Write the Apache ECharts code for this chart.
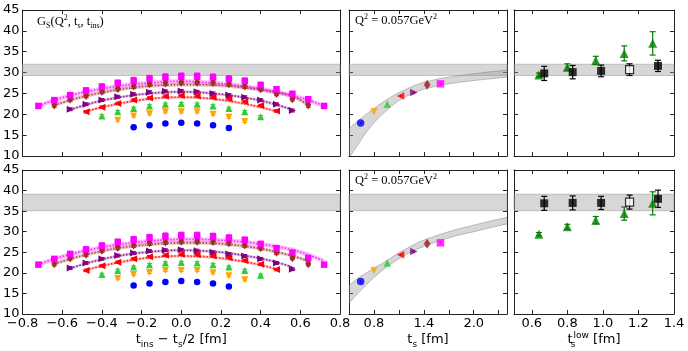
<!DOCTYPE html>
<html>
<head>
<meta charset="utf-8">
<script src="https://cdn.jsdelivr.net/npm/echarts@6/dist/echarts.min.js"></script>
<style>
html, body { margin: 0; padding: 0; background: #fff; }
#chart { width: 688px; height: 351px; }
</style>
</head>
<body>
<div id="chart"></div>
<script>
// ---- data ----
// left panels: G_S vs t_ins - t_s/2, one set per source-sink separation
const tinsBlue    = [-0.24, -0.16, -0.08, 0, 0.08, 0.16, 0.24];
const tinsOrange  = [-0.32, -0.24, -0.16, -0.08, 0, 0.08, 0.16, 0.24, 0.32];
const tinsGreen   = [-0.40, -0.32, -0.24, -0.16, -0.08, 0, 0.08, 0.16, 0.24, 0.32, 0.40];
const tinsRed     = [-0.48, -0.40, -0.32, -0.24, -0.16, -0.08, 0, 0.08, 0.16, 0.24, 0.32, 0.40, 0.48];
const tinsPurple  = [-0.56, -0.48, -0.40, -0.32, -0.24, -0.16, -0.08, 0, 0.08, 0.16, 0.24, 0.32, 0.40, 0.48, 0.56];
const tinsBrown   = [-0.64, -0.56, -0.48, -0.40, -0.32, -0.24, -0.16, -0.08, 0, 0.08, 0.16, 0.24, 0.32, 0.40, 0.48, 0.56, 0.64];
const tinsMagenta = [-0.72, -0.64, -0.56, -0.48, -0.40, -0.32, -0.24, -0.16, -0.08, 0, 0.08, 0.16, 0.24, 0.32, 0.40, 0.48, 0.56, 0.64, 0.72];

const gsBlue    = [16.9, 17.4, 17.8, 18.0, 17.8, 17.4, 16.7];
const gsOrange  = [18.6, 19.6, 20.1, 20.6, 20.6, 20.6, 20.0, 19.3, 18.3];
const gsGreen   = [19.6, 20.6, 21.4, 22.0, 22.4, 22.5, 22.4, 22.0, 21.4, 20.6, 19.4];
const gsRed     = [20.6, 21.7, 22.6, 23.4, 23.9, 24.3, 24.5, 24.4, 24.1, 23.7, 23.0, 22.1, 20.8];
const gsPurple  = [21.2, 22.4, 23.4, 24.2, 24.8, 25.3, 25.5, 25.6, 25.4, 25.0, 24.6, 24.1, 23.4, 22.4, 20.9];
const gsBrown   = [22.2, 23.6, 24.5, 25.5, 26.2, 26.8, 27.3, 27.5, 27.7, 27.7, 27.6, 27.3, 26.8, 26.1, 25.0, 23.7, 22.2];
const gsMagenta = [22.0, 23.4, 24.6, 25.7, 26.6, 27.5, 28.1, 28.6, 28.9, 29.1, 29.1, 28.9, 28.5, 28.0, 27.0, 26.0, 24.9, 23.6, 22.0];

const errBlue    = [0.2, 0.2, 0.2, 0.2, 0.2, 0.2, 0.2];
const errOrange  = [0.25, 0.25, 0.25, 0.25, 0.25, 0.25, 0.25, 0.25, 0.25];
const errGreen   = [0.3, 0.3, 0.3, 0.3, 0.3, 0.3, 0.3, 0.3, 0.3, 0.3, 0.3];
const errRed     = [0.3, 0.3, 0.3, 0.3, 0.3, 0.3, 0.3, 0.3, 0.3, 0.3, 0.3, 0.3, 0.3];
const errPurple  = [0.35, 0.35, 0.35, 0.35, 0.35, 0.35, 0.35, 0.35, 0.35, 0.35, 0.35, 0.35, 0.35, 0.35, 0.35];
const errBrown   = [0.5, 0.5, 0.55, 0.55, 0.6, 0.6, 0.6, 0.6, 0.6, 0.6, 0.6, 0.6, 0.6, 0.55, 0.55, 0.5, 0.5];
const errMagenta = [0.5, 0.55, 0.6, 0.65, 0.7, 0.7, 0.75, 0.75, 0.8, 0.8, 0.8, 0.75, 0.75, 0.7, 0.7, 0.65, 0.6, 0.55, 0.5];

// fit bands in the left panels (centre values, upper row / lower row)
const fitRedTop     = [20.7, 21.7, 22.5, 23.2, 23.7, 24.0, 24.1, 24.0, 23.7, 23.2, 22.5, 21.7, 20.7];
const fitPurpleTop  = [21.1, 22.3, 23.3, 24.0, 24.6, 25.0, 25.3, 25.4, 25.3, 25.0, 24.6, 24.0, 23.3, 22.3, 21.1];
const fitBrownTop   = [22.2, 23.4, 24.4, 25.2, 25.9, 26.4, 26.8, 27.0, 27.1, 27.1, 27.0, 26.8, 26.4, 25.9, 25.2, 24.4, 22.2];
const fitMagentaTop = [22.0, 23.4, 24.5, 25.4, 26.1, 26.7, 27.2, 27.5, 27.8, 27.9, 27.8, 27.5, 27.2, 26.7, 26.1, 25.4, 24.5, 23.4, 22.0];
const fitRedBot     = [20.7, 21.7, 22.5, 23.2, 23.7, 24.0, 24.1, 24.0, 23.8, 23.3, 22.7, 21.9, 20.9];
const fitPurpleBot  = [21.1, 22.3, 23.3, 24.1, 24.7, 25.1, 25.4, 25.5, 25.4, 25.2, 24.8, 24.2, 23.5, 22.6, 21.4];
const fitBrownBot   = [22.2, 23.4, 24.4, 25.3, 26.0, 26.5, 26.9, 27.2, 27.3, 27.3, 27.2, 26.9, 26.5, 25.9, 25.1, 24.1, 22.9];
const fitMagentaBot = [22.0, 23.4, 24.5, 25.4, 26.2, 26.8, 27.3, 27.7, 28.0, 28.1, 28.1, 28.0, 27.8, 27.5, 27.0, 26.4, 25.6, 24.4, 22.9];
const fitHalf = [0.35, 0.35, 0.45, 0.55]; // red, purple, brown, magenta

// middle panels: midpoint value vs t_s
const tsVals   = [0.64, 0.80, 0.96, 1.12, 1.28, 1.44, 1.60];
const gsMid    = [17.9, 20.6, 22.4, 24.4, 25.2, 27.1, 27.3];
const gsMidErr = [0.2, 0.25, 0.3, 0.3, 0.35, 0.75, 0.45];
const tsCurve      = [0.5, 0.6, 0.7, 0.8, 0.9, 1.0, 1.1, 1.2, 1.3, 1.4, 1.6, 1.8, 2.0, 2.2, 2.4];
const curveLoTop   = [9.5, 12.5, 15.5, 18.0, 20.0, 21.8, 23.3, 24.4, 25.3, 26.0, 27.0, 27.6, 28.1, 28.5, 28.9];
const curveHiTop   = [16.6, 18.3, 19.9, 21.4, 22.8, 24.1, 25.2, 26.1, 27.0, 27.7, 28.6, 29.2, 29.7, 30.2, 30.6];
const curveLoBot   = [12.6, 14.9, 17.0, 18.9, 20.6, 22.1, 23.4, 24.6, 25.6, 26.4, 27.9, 29.1, 30.0, 31.0, 31.9];
const curveHiBot   = [17.0, 18.6, 19.9, 21.1, 22.3, 23.6, 24.9, 26.0, 27.1, 28.0, 29.4, 30.6, 31.6, 32.6, 33.5];

// plateau bands
const plateauTop = [29.3, 32.0];
const plateauBot = [35.1, 39.1];

// right panels: vs t_s^low
const tsLowSq  = [0.67, 0.83, 0.99, 1.15, 1.31];
const tsLowTri = [0.64, 0.80, 0.96, 1.12, 1.28];
const sqTop    = [29.8, 30.1, 30.4, 30.7, 31.6];
const sqTopErr = [1.7, 1.6, 1.4, 1.4, 1.35];
const triTop    = [29.4, 31.3, 32.9, 34.6, 37.0];
const triTopErr = [0.5, 0.8, 1.0, 1.8, 2.8];
const sqBot    = [36.9, 37.0, 37.0, 37.2, 38.0];
const sqBotErr = [1.7, 1.7, 1.6, 1.7, 2.1];
const triBot    = [29.4, 31.2, 32.8, 34.4, 36.9];
const triBotErr = [0.4, 0.6, 0.9, 1.6, 2.8];
const openIndex = 3;

// ---- styling ----
const colors  = ['#0000ff', '#ffa500', '#32cd32', '#ff0000', '#800080', '#a52a2a', '#ff00ff'];
const symbols = ['circle', 'triangle', 'triangle', 'triangle', 'triangle', 'diamond', 'rect'];
const rotates = [0, 180, 0, 90, -90, 0, 0];
const bandRGB = ['255,0,0', '128,0,128', '165,42,42', '255,0,255'];

const tinsSets = [tinsBlue, tinsOrange, tinsGreen, tinsRed, tinsPurple, tinsBrown, tinsMagenta];
const gsSets   = [gsBlue, gsOrange, gsGreen, gsRed, gsPurple, gsBrown, gsMagenta];
const errSets  = [errBlue, errOrange, errGreen, errRed, errPurple, errBrown, errMagenta];
const fitTop = [fitRedTop, fitPurpleTop, fitBrownTop, fitMagentaTop];
const fitBot = [fitRedBot, fitPurpleBot, fitBrownBot, fitMagentaBot];

const grids = [
  {left: 22, top: 10, width: 318, height: 146},
  {left: 349, top: 10, width: 158, height: 146},
  {left: 514, top: 10, width: 160, height: 146},
  {left: 22, top: 170, width: 318, height: 144},
  {left: 349, top: 170, width: 158, height: 144},
  {left: 514, top: 170, width: 160, height: 144}
];

const ink = '#222';
const tickFont = {fontFamily: 'DejaVu Sans', fontSize: 13, color: '#000'};
const nameRich = {
  m: {fontFamily: 'DejaVu Sans', fontSize: 13, color: '#000', lineHeight: 18},
  s: {fontFamily: 'DejaVu Sans', fontSize: 9, color: '#000', lineHeight: 9, verticalAlign: 'bottom'},
  p: {fontFamily: 'DejaVu Sans', fontSize: 9, color: '#000', lineHeight: 9, verticalAlign: 'top'},
  s0: {fontFamily: 'DejaVu Sans', fontSize: 9, color: '#000', lineHeight: 9, verticalAlign: 'bottom', width: 1}
};

function fmtNum(v) {
  return String(Math.round(v * 10) / 10).replace('-', '\u2212');
}

const xRanges = [
  {min: -0.8, max: 0.8, interval: 0.2, showMin: true,
    fmt: v => fmtNum(v).replace(/^(\u2212?\d)$/, '$1.0')},
  {min: 0.5, max: 2.4, interval: 0.3, showMin: false, fmt: v => {
    const r = Math.round(v * 10) / 10;
    return (r === 0.8 || r === 1.4 || r === 2.0) ? r.toFixed(1) : '';
  }},
  {min: 0.5, max: 1.4, showMin: false, fmt: v => {
    const r = Math.round(v * 10) / 10;
    return r < 0.55 ? '' : r.toFixed(1);
  }}
];

const xNames = [
  '{m|t}{s|ins}{m| \u2212 t}{s|s}{m|/2 [fm]}',
  '{m|t}{s|s}{m| [fm]}',
  '{m|t}{s0|s}{p|low}{m| [fm]}'
];

const xAxes = [], yAxes = [];
grids.forEach((g, gi) => {
  const col = gi % 3, bottomRow = gi >= 3;
  const r = xRanges[col];
  ['bottom', 'top'].forEach(pos => {
    const main = pos === 'bottom';
    xAxes.push({
      type: 'value', gridIndex: gi, position: pos,
      min: r.min, max: r.max, interval: r.interval,
      axisLine: {show: true, onZero: false, lineStyle: {color: ink, width: 1}},
      axisTick: {show: true, inside: true, length: 4, lineStyle: {color: ink}},
      splitLine: {show: false},
      axisLabel: Object.assign({show: main && bottomRow, formatter: r.fmt, margin: 3,
        showMinLabel: r.showMin, showMaxLabel: true, hideOverlap: false}, tickFont),
      name: main && bottomRow ? xNames[col] : '',
      nameLocation: 'middle', nameGap: 17,
      nameTextStyle: {rich: nameRich}
    });
  });
  ['left', 'right'].forEach(pos => {
    const main = pos === 'left';
    yAxes.push({
      type: 'value', gridIndex: gi, position: pos,
      min: 10, max: 45, interval: 5,
      axisLine: {show: true, onZero: false, lineStyle: {color: ink, width: 1}},
      axisTick: {show: true, inside: true, length: 4, lineStyle: {color: ink}},
      splitLine: {show: false},
      axisLabel: Object.assign({show: main && col === 0, margin: 3}, tickFont)
    });
  });
});

function pts(xs, ys) { return xs.map((x, i) => [x, ys[i]]); }

function errBars(gi, xs, ys, es, color, cap, width) {
  return {
    type: 'custom', xAxisIndex: 2 * gi, yAxisIndex: 2 * gi, silent: true, z: 4, clip: true,
    data: xs.map((x, i) => [x, ys[i] - es[i], ys[i] + es[i]]),
    encode: {x: 0, y: [1, 2]},
    renderItem: (params, api) => {
      const lo = api.coord([api.value(0), api.value(1)]);
      const hi = api.coord([api.value(0), api.value(2)]);
      const st = {stroke: color, lineWidth: width || 1};
      return {type: 'group', children: [
        {type: 'line', shape: {x1: lo[0], y1: lo[1], x2: hi[0], y2: hi[1]}, style: st},
        {type: 'line', shape: {x1: lo[0] - cap, y1: lo[1], x2: lo[0] + cap, y2: lo[1]}, style: st},
        {type: 'line', shape: {x1: hi[0] - cap, y1: hi[1], x2: hi[0] + cap, y2: hi[1]}, style: st}
      ]};
    }
  };
}

// filled band between lo and hi, drawn as one polygon through the axes' scales
function band(gi, xs, lo, hi, fill, edge, z) {
  return {
    type: 'custom', xAxisIndex: 2 * gi, yAxisIndex: 2 * gi, silent: true, z: z, clip: true,
    data: xs.map((x, i) => [x, lo[i], hi[i]]),
    encode: {x: 0, y: [1, 2]},
    renderItem: (params, api) => {
      if (params.dataIndex !== 0) return null;
      const top = xs.map((x, i) => api.coord([x, hi[i]]));
      const bot = xs.map((x, i) => api.coord([x, lo[i]]));
      const kids = [{type: 'polygon', shape: {points: top.concat(bot.slice().reverse())},
        style: {fill: fill, stroke: null}}];
      if (edge) {
        kids.push({type: 'polyline', shape: {points: top}, style: {stroke: edge, fill: null, lineWidth: 0.8}});
        kids.push({type: 'polyline', shape: {points: bot}, style: {stroke: edge, fill: null, lineWidth: 0.8}});
      }
      return {type: 'group', children: kids};
    }
  };
}

function plateau(gi, range) {
  return {
    type: 'line', xAxisIndex: 2 * gi, yAxisIndex: 2 * gi, data: [], silent: true, z: 1,
    markArea: {silent: true,
      itemStyle: {color: 'rgba(150,150,150,0.38)', borderColor: 'rgba(150,150,150,0.5)', borderWidth: 1},
      data: [[{yAxis: range[0]}, {yAxis: range[1]}]]}
  };
}

const series = [];

// left panels
[0, 3].forEach(gi => {
  const fits = gi === 0 ? fitTop : fitBot;
  series.push(plateau(gi, gi === 0 ? plateauTop : plateauBot));
  fits.forEach((c, k) => {
    const xs = tinsSets[k + 3], h = fitHalf[k];
    series.push(band(gi, xs, c.map(v => v - h), c.map(v => v + h),
      'rgba(' + bandRGB[k] + ',0.25)', null, 1));
    series.push({type: 'line', xAxisIndex: 2 * gi, yAxisIndex: 2 * gi, symbol: 'none', smooth: 0.4, silent: true,
      data: pts(xs, c), lineStyle: {color: colors[k + 3], width: 1.6, type: 'dotted', opacity: 0.8}, z: 2});
  });
  tinsSets.forEach((xs, k) => {
    series.push(errBars(gi, xs, gsSets[k], errSets[k], colors[k], 2.5, 1));
    series.push({type: 'scatter', xAxisIndex: 2 * gi, yAxisIndex: 2 * gi, silent: true, z: 5,
      symbol: symbols[k], symbolRotate: rotates[k],
      symbolSize: k === 5 ? [6, 9] : (k === 0 || k === 6 ? 6.5 : 7),
      itemStyle: {color: colors[k], opacity: 1},
      data: pts(xs, gsSets[k])});
  });
});

// middle panels
[1, 4].forEach(gi => {
  series.push(plateau(gi, gi === 1 ? plateauTop : plateauBot));
  series.push(band(gi, tsCurve, gi === 1 ? curveLoTop : curveLoBot, gi === 1 ? curveHiTop : curveHiBot,
    'rgba(150,150,150,0.38)', 'rgba(120,120,120,0.55)', 1));
  tsVals.forEach((t, k) => {
    series.push(errBars(gi, [t], [gsMid[k]], [gsMidErr[k]], colors[k], 0, 1.5));
    series.push({type: 'scatter', xAxisIndex: 2 * gi, yAxisIndex: 2 * gi, silent: true, z: 5,
      symbol: symbols[k], symbolRotate: rotates[k],
      symbolSize: k === 5 ? [7, 10] : 7.5,
      itemStyle: {color: colors[k]},
      data: [[t, gsMid[k]]]});
  });
});

// right panels
[2, 5].forEach(gi => {
  const sq = gi === 2 ? sqTop : sqBot, sqE = gi === 2 ? sqTopErr : sqBotErr;
  const tr = gi === 2 ? triTop : triBot, trE = gi === 2 ? triTopErr : triBotErr;
  series.push(plateau(gi, gi === 2 ? plateauTop : plateauBot));
  series.push(errBars(gi, tsLowTri, tr, trE, '#008000', 3, 1.2));
  series.push({type: 'scatter', xAxisIndex: 2 * gi, yAxisIndex: 2 * gi, silent: true, z: 5,
    symbol: 'triangle', symbolSize: 9, itemStyle: {color: '#008000'}, data: pts(tsLowTri, tr)});
  series.push(errBars(gi, tsLowSq, sq, sqE, '#000', 3, 1.2));
  series.push({type: 'scatter', xAxisIndex: 2 * gi, yAxisIndex: 2 * gi, silent: true, z: 6,
    symbol: 'rect', symbolSize: 8,
    data: tsLowSq.map((x, i) => ({value: [x, sq[i]],
      itemStyle: i === openIndex ? {color: '#fff', borderColor: '#000', borderWidth: 1.2} : {color: '#000'}}))});
});

const serif = 'Liberation Serif';
const annRich = {
  m: {fontFamily: serif, fontSize: 12.5, color: '#000', lineHeight: 16},
  s: {fontFamily: serif, fontSize: 8, color: '#000', lineHeight: 8, verticalAlign: 'bottom'},
  p: {fontFamily: serif, fontSize: 8, color: '#000', lineHeight: 8, verticalAlign: 'top'}
};
const qText = '{m|Q}{p|2}{m| = 0.057GeV}{p|2}';

const chart = echarts.init(document.getElementById('chart'), null, {renderer: 'canvas'});
chart.setOption({
  animation: false,
  backgroundColor: '#fff',
  grid: grids,
  xAxis: xAxes,
  yAxis: yAxes,
  series: series,
  graphic: [
    {type: 'text', left: 37, top: 14, z: 10,
      style: {text: '{m|G}{s|S}{m|(Q}{p|2}{m|, t}{s|s}{m|, t}{s|ins}{m|)}', rich: annRich}},
    {type: 'text', left: 355, top: 13, z: 10, style: {text: qText, rich: annRich}},
    {type: 'text', left: 355, top: 173, z: 10, style: {text: qText, rich: annRich}}
  ]
});
</script>
</body>
</html>
